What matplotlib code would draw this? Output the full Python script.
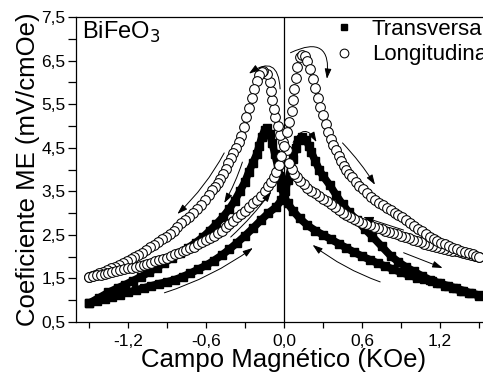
import matplotlib
matplotlib.use("Agg")
import matplotlib.pyplot as plt
from matplotlib.ticker import FixedLocator, FuncFormatter

plt.rcParams['font.family'] = ['Liberation Sans', 'DejaVu Sans']

# Longitudinal, field sweeping +1.5 -> -1.5
long_down_x = [1.50, 1.47, 1.44, 1.41, 1.38, 1.35, 1.32, 1.29, 1.26, 1.23, 1.20, 1.17, 1.14, 1.11, 1.08,
               1.05, 1.02, 0.99, 0.96, 0.93, 0.90, 0.87, 0.84, 0.81, 0.78, 0.75, 0.72, 0.69, 0.66, 0.63,
               0.60, 0.57, 0.54, 0.51, 0.48, 0.45, 0.42, 0.39, 0.36, 0.33, 0.30, 0.27, 0.24, 0.21, 0.18,
               0.15, 0.12, 0.10, 0.08, 0.06, 0.04, 0.02,
               -0.01, -0.03, -0.05, -0.07, -0.08, -0.09, -0.10, -0.11, -0.13, -0.16,
               -0.17, -0.19, -0.21, -0.23, -0.25, -0.27, -0.29, -0.31, -0.33, -0.35, -0.37, -0.39, -0.41,
               -0.43, -0.45, -0.47, -0.49, -0.51, -0.53, -0.55, -0.58, -0.61, -0.64, -0.67, -0.70, -0.73,
               -0.76, -0.79, -0.82, -0.85, -0.88, -0.91, -0.94, -0.97, -1.00, -1.03, -1.06, -1.09, -1.12,
               -1.15, -1.18, -1.21, -1.24, -1.27, -1.30, -1.33, -1.36, -1.39, -1.42, -1.45, -1.48, -1.50]
long_down_y = [2.00, 2.02, 2.04, 2.06, 2.08, 2.10, 2.12, 2.14, 2.16, 2.18, 2.20, 2.22, 2.24, 2.27, 2.30,
               2.33, 2.36, 2.39, 2.42, 2.45, 2.48, 2.51, 2.54, 2.57, 2.60, 2.63, 2.66, 2.69, 2.72, 2.75,
               2.78, 2.82, 2.86, 2.90, 2.95, 3.00, 3.06, 3.13, 3.20, 3.27, 3.33, 3.39, 3.45, 3.51, 3.58,
               3.66, 3.74, 3.82, 3.90, 4.01, 4.15, 4.45,
               4.62, 4.80, 5.00, 5.20, 5.40, 5.60, 5.80, 6.00, 6.20, 6.25,
               6.24, 6.16, 6.02, 5.84, 5.64, 5.42, 5.20, 4.98, 4.78, 4.62, 4.50, 4.38, 4.26,
               4.14, 4.02, 3.90, 3.79, 3.69, 3.60, 3.52, 3.42, 3.30, 3.19, 3.09, 3.00, 2.92,
               2.85, 2.77, 2.68, 2.60, 2.53, 2.46, 2.40, 2.33, 2.27, 2.21, 2.15, 2.09, 2.04,
               1.99, 1.95, 1.90, 1.85, 1.81, 1.77, 1.73, 1.69, 1.65, 1.62, 1.58, 1.55, 1.53]

# Longitudinal, field sweeping -1.5 -> +1.5
long_up_x = [-1.50, -1.47, -1.44, -1.41, -1.38, -1.35, -1.32, -1.29, -1.26, -1.23, -1.20, -1.17, -1.14,
             -1.11, -1.08, -1.05, -1.02, -0.99, -0.96, -0.93, -0.90, -0.87, -0.84, -0.81, -0.78, -0.75,
             -0.72, -0.69, -0.66, -0.63, -0.60, -0.57, -0.54, -0.51, -0.48, -0.45, -0.42, -0.39, -0.36,
             -0.33, -0.30, -0.27, -0.24, -0.21, -0.18, -0.15, -0.12, -0.10, -0.08, -0.06, -0.04, -0.02,
             0.00, 0.02, 0.04, 0.06, 0.07, 0.08, 0.09, 0.10, 0.12, 0.14,
             0.16, 0.18, 0.20, 0.22, 0.24, 0.26, 0.28, 0.30, 0.32, 0.34, 0.36, 0.38, 0.40, 0.42, 0.44,
             0.46, 0.48, 0.50, 0.52, 0.55, 0.58, 0.61, 0.64, 0.67, 0.70, 0.73, 0.76, 0.79, 0.82, 0.85,
             0.88, 0.91, 0.94, 0.97, 1.00, 1.03, 1.06, 1.09, 1.12, 1.15, 1.18, 1.21, 1.24, 1.27, 1.30,
             1.33, 1.36, 1.39, 1.42, 1.45, 1.48, 1.50]
long_up_y = [1.53, 1.55, 1.57, 1.59, 1.61, 1.63, 1.65, 1.67, 1.69, 1.71, 1.73, 1.74, 1.76,
             1.78, 1.80, 1.83, 1.86, 1.89, 1.92, 1.95, 1.98, 2.01, 2.05, 2.08, 2.12, 2.15,
             2.19, 2.23, 2.28, 2.33, 2.38, 2.43, 2.48, 2.54, 2.60, 2.67, 2.74, 2.82, 2.90,
             2.97, 3.05, 3.13, 3.22, 3.31, 3.40, 3.50, 3.62, 3.71, 3.82, 3.95, 4.10, 4.30,
             4.55, 4.85, 5.10, 5.35, 5.60, 5.85, 6.10, 6.35, 6.58, 6.63,
             6.60, 6.48, 6.30, 6.08, 5.86, 5.64, 5.44, 5.24, 5.04, 4.86, 4.70, 4.56, 4.44, 4.32, 4.20,
             4.09, 3.99, 3.90, 3.82, 3.72, 3.63, 3.55, 3.46, 3.38, 3.31, 3.24, 3.18, 3.12, 3.06, 3.01,
             2.96, 2.90, 2.84, 2.77, 2.70, 2.64, 2.58, 2.52, 2.46, 2.41, 2.36, 2.32, 2.28, 2.24, 2.20,
             2.17, 2.14, 2.11, 2.08, 2.05, 2.02, 2.00]

# Transversal, field sweeping +1.5 -> -1.5
trans_down_x = [1.50, 1.44, 1.38, 1.32, 1.26, 1.20, 1.14, 1.08, 1.02, 0.96, 0.90, 0.84, 0.78, 0.72, 0.66,
                0.60, 0.54, 0.48, 0.42, 0.36, 0.30, 0.24, 0.18, 0.12, 0.07, 0.03, 0.00, -0.02, -0.03,
                -0.05, -0.07, -0.09, -0.11, -0.13, -0.15, -0.17, -0.19, -0.21, -0.24, -0.27, -0.30, -0.34,
                -0.38, -0.42, -0.47, -0.52, -0.57, -0.62, -0.68, -0.74, -0.80, -0.86, -0.92, -0.98, -1.04,
                -1.10, -1.16, -1.22, -1.28, -1.35, -1.42, -1.50]
trans_down_y = [1.10, 1.16, 1.22, 1.28, 1.33, 1.39, 1.44, 1.48, 1.52, 1.58, 1.64, 1.71, 1.78, 1.85, 1.93,
                2.01, 2.10, 2.20, 2.30, 2.40, 2.50, 2.60, 2.72, 2.88, 3.05, 3.22, 3.38, 3.60, 3.85,
                4.10, 4.35, 4.60, 4.82, 4.95, 4.90, 4.75, 4.55, 4.35, 4.15, 3.95, 3.72, 3.50,
                3.28, 3.10, 2.91, 2.75, 2.60, 2.46, 2.32, 2.20, 2.08, 1.97, 1.86, 1.75, 1.64,
                1.54, 1.45, 1.36, 1.28, 1.18, 1.06, 0.93]

# Transversal, field sweeping -1.5 -> +1.5
trans_up_x = [-1.50, -1.44, -1.38, -1.32, -1.26, -1.20, -1.14, -1.08, -1.02, -0.96, -0.90, -0.84, -0.78,
              -0.72, -0.66, -0.60, -0.54, -0.48, -0.42, -0.36, -0.30, -0.24, -0.18, -0.12, -0.06, -0.02,
              0.01, 0.03, 0.05, 0.07, 0.09, 0.11, 0.14, 0.17, 0.19, 0.21, 0.24, 0.27, 0.30, 0.35, 0.40,
              0.45, 0.50, 0.56, 0.62, 0.68, 0.75, 0.82, 0.88, 0.94, 1.00, 1.06, 1.12, 1.18, 1.24, 1.30,
              1.36, 1.42, 1.50]
trans_up_y = [0.93, 0.98, 1.03, 1.08, 1.13, 1.18, 1.23, 1.28, 1.33, 1.38, 1.42, 1.47, 1.54,
              1.62, 1.71, 1.80, 1.91, 2.03, 2.17, 2.32, 2.48, 2.65, 2.83, 3.00, 3.14, 3.30,
              3.50, 3.75, 4.00, 4.25, 4.50, 4.68, 4.75, 4.68, 4.55, 4.40, 4.20, 4.00, 3.85, 3.65, 3.42,
              3.20, 3.02, 2.84, 2.64, 2.46, 2.24, 2.02, 1.88, 1.76, 1.66, 1.56, 1.47, 1.40, 1.33, 1.27,
              1.22, 1.17, 1.12]

x_ticks = [-1.2, -0.6, 0.0, 0.6, 1.2]
x_minor = [-1.5, -0.9, -0.3, 0.3, 0.9, 1.5]
y_ticks = [0.5, 1.5, 2.5, 3.5, 4.5, 5.5, 6.5, 7.5]
y_minor = [1.0, 2.0, 3.0, 4.0, 5.0, 6.0, 7.0]

# sweep-direction arrows: (start_x, start_y, end_x, end_y, curvature)
arrows = [
    (-0.03, 5.85, -0.27, 6.20, 0.9),
    (0.05, 6.68, 0.33, 6.08, -0.9),
    (0.07, 4.62, 0.25, 4.63, -0.9),
    (-0.46, 4.38, -0.82, 2.98, -0.08),
    (-0.32, 4.17, -0.46, 3.23, -0.05),
    (-0.41, 2.45, -0.10, 3.49, 0.05),
    (-0.92, 1.17, -0.24, 2.20, 0.08),
    (0.45, 4.61, 0.70, 3.65, -0.05),
    (0.92, 2.61, 0.61, 2.91, 0.0),
    (0.92, 2.09, 1.22, 1.74, 0.0),
    (0.74, 1.42, 0.22, 2.27, -0.08),
]

fig = plt.figure(figsize=(4.83, 3.74), dpi=100)
ax = fig.add_axes([76 / 483, 52 / 374, 416 / 483, 305 / 374])
ax.set_xlim(-1.6, 1.6)
ax.set_ylim(0.5, 7.5)

ax.axvline(0.0, color='black', lw=0.9, zorder=1)

for xs, ys in [(trans_down_x, trans_down_y), (trans_up_x, trans_up_y)]:
    ax.plot(xs, ys, color='black', lw=5.5, solid_joinstyle='round', solid_capstyle='round', zorder=2)
ax.plot(trans_down_x, trans_down_y, ls='none', marker='s', ms=5.2, color='black', zorder=3,
        label='Transversal')
ax.plot(trans_up_x, trans_up_y, ls='none', marker='s', ms=5.2, color='black', zorder=3)

ax.plot(long_down_x, long_down_y, ls='none', marker='o', ms=7.0, mfc='white', mec='black',
        mew=0.75, zorder=4, label='Longitudinal')
ax.plot(long_up_x, long_up_y, ls='none', marker='o', ms=7.0, mfc='white', mec='black',
        mew=0.75, zorder=4)

for x0, y0, x1, y1, rad in arrows:
    ax.annotate('', xy=(x1, y1), xytext=(x0, y0),
                arrowprops=dict(arrowstyle='-|>,head_length=0.6,head_width=0.2', color='black', lw=0.7,
                                mutation_scale=10, shrinkA=0, shrinkB=0,
                                connectionstyle='arc3,rad=%g' % rad), zorder=5)

ax.xaxis.set_major_locator(FixedLocator(x_ticks))
ax.xaxis.set_minor_locator(FixedLocator(x_minor))
ax.yaxis.set_major_locator(FixedLocator(y_ticks))
ax.yaxis.set_minor_locator(FixedLocator(y_minor))
fmt = FuncFormatter(lambda v, p: ('%.1f' % v).replace('.', ','))
ax.xaxis.set_major_formatter(fmt)
ax.yaxis.set_major_formatter(fmt)
ax.tick_params(axis='x', which='major', direction='out', length=4, width=0.9, labelsize=12.5, pad=5)
ax.tick_params(axis='x', which='minor', direction='out', length=4, width=0.9)
ax.tick_params(axis='y', which='major', direction='out', length=6, width=0.9, labelsize=12.5, pad=1.5)
ax.tick_params(axis='y', which='minor', direction='out', length=6, width=0.9)
for s in ax.spines.values():
    s.set_linewidth(0.9)

ax.set_xlabel('Campo Magnético (KOe)', fontsize=18.5, labelpad=-1)
ax.set_ylabel('Coeficiente ME (mV/cmOe)', fontsize=18.5, labelpad=1)

ax.text(0.015, 0.99, 'BiFeO$_3$', transform=ax.transAxes, fontsize=17, va='top', ha='left')

ax.legend(loc='upper left', bbox_to_anchor=(333 / 483, 1 - 19 / 374), bbox_transform=fig.transFigure,
          frameon=False, fontsize=16, handlelength=1.0, handletextpad=0.75, labelspacing=0.2,
          borderpad=0, borderaxespad=0, markerscale=0.9)

fig.savefig('out.png', dpi=100)
